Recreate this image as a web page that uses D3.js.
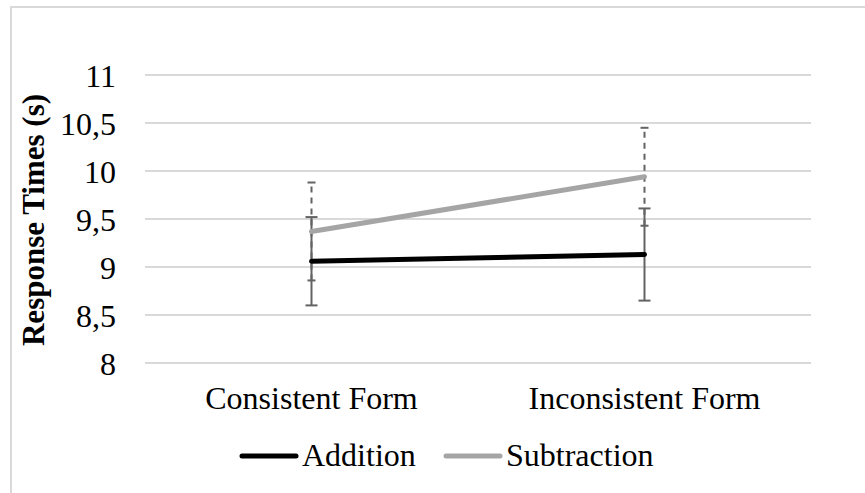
<!DOCTYPE html>
<html><head><meta charset="utf-8">
<script src="https://cdn.jsdelivr.net/npm/d3@7"></script>
<style>body{margin:0;background:#fff}svg{display:block}text{font-family:"Liberation Serif","Times New Roman",serif}</style>
</head><body>
<svg id="c" width="865" height="493"></svg>
<script>
const categories = ["Consistent Form", "Inconsistent Form"];
const seriesNames = ["Addition", "Subtraction"];
const additionValues = [9.06, 9.13];
const subtractionValues = [9.37, 9.94];
const additionErrors = [0.46, 0.48];
const subtractionErrors = [0.51, 0.51];
const yTicks = [8, 8.5, 9, 9.5, 10, 10.5, 11];
const yTickLabels = ["8", "8,5", "9", "9,5", "10", "10,5", "11"];

const series = [
  {name: seriesNames[0], values: additionValues, errors: additionErrors, color: "#000000", dash: null, cap: 6},
  {name: seriesNames[1], values: subtractionValues, errors: subtractionErrors, color: "#a5a5a5", dash: "6,5", cap: 4}
];

const FONT = "'Liberation Serif', 'Times New Roman', serif";
const svg = d3.select("#c");
// chart border
svg.append("rect").attr("x", 11).attr("y", 7).attr("width", 900).attr("height", 600)
  .attr("fill", "none").attr("stroke", "#d9d9d9").attr("stroke-width", 2);

const x = d3.scaleBand().domain(categories).range([145, 811]).paddingInner(0).paddingOuter(0);
const y = d3.scaleLinear().domain([8, 11]).range([363, 75]);

// gridlines
svg.append("g").selectAll("line").data(yTicks).join("line")
  .attr("x1", 145).attr("x2", 811)
  .attr("y1", d => y(d)).attr("y2", d => y(d))
  .attr("stroke", "#d9d9d9").attr("stroke-width", 2);

// y axis labels
const yAxis = d3.axisLeft(y).tickValues(yTicks).tickFormat((d, i) => yTickLabels[i]).tickSize(0).tickPadding(29);
const ya = svg.append("g").attr("transform", "translate(145,0)").call(yAxis)
  .attr("font-family", FONT).attr("font-size", 32);
ya.select(".domain").remove();
ya.selectAll("text").attr("fill", "#000").attr("dy", "0.35em");

// x axis labels
const xAxis = d3.axisBottom(x).tickSize(0).tickPadding(0);
const xa = svg.append("g").attr("transform", "translate(0,363)").call(xAxis)
  .attr("font-family", FONT).attr("font-size", 32);
xa.select(".domain").remove();
xa.selectAll("text").attr("fill", "#000").attr("dy", null).attr("y", 46);

// y title
svg.append("text").attr("transform", "translate(44,220) rotate(-90)")
  .attr("text-anchor", "middle").attr("font-family", FONT).attr("font-size", 31)
  .attr("font-weight", "bold").text("Response Times (s)");

const cx = c => x(c) + x.bandwidth() / 2;

// error bars
const eg = svg.append("g");
series.slice().reverse().forEach(s => {
  categories.forEach((c, i) => {
    const lo = s.values[i] - s.errors[i], hi = s.values[i] + s.errors[i];
    eg.append("line").attr("x1", cx(c)).attr("x2", cx(c)).attr("y1", y(lo)).attr("y2", y(hi))
      .attr("stroke", "#636363").attr("stroke-width", 2).attr("stroke-dasharray", s.dash);
    [lo, hi].forEach(v => eg.append("line").attr("x1", cx(c) - s.cap).attr("x2", cx(c) + s.cap)
      .attr("y1", y(v)).attr("y2", y(v)).attr("stroke", "#636363").attr("stroke-width", 2));
  });
});

// lines
const line = d3.line().x((d, i) => cx(categories[i])).y(d => y(d));
series.slice().reverse().forEach(s => {
  svg.append("path").attr("d", line(s.values)).attr("fill", "none")
    .attr("stroke", s.color).attr("stroke-width", 5).attr("stroke-linecap", "round");
});

// legend
const legendX = [242, 446];
series.forEach((s, i) => {
  const g = svg.append("g").attr("transform", `translate(${legendX[i]},456)`);
  g.append("line").attr("x1", 0).attr("x2", 54).attr("y1", 0).attr("y2", 0)
    .attr("stroke", s.color).attr("stroke-width", 5).attr("stroke-linecap", "round");
  g.append("text").attr("x", 60).attr("y", 10).attr("font-family", FONT).attr("font-size", 32).text(s.name);
});
</script>
</body></html>
